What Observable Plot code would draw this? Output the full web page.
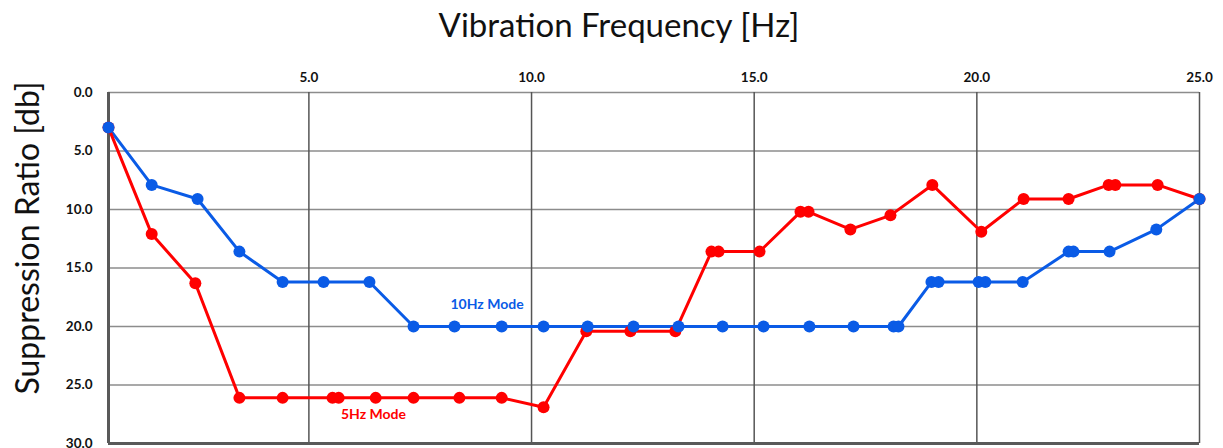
<!DOCTYPE html>
<html>
<head>
<meta charset="utf-8">
<script src="https://cdn.jsdelivr.net/npm/d3@7"></script>
<script src="https://cdn.jsdelivr.net/npm/@observablehq/plot@0.6"></script>
<style>
  html, body { margin: 0; padding: 0; background: #fff; }
  #chart svg { display: block; }
</style>
</head>
<body>
<div id="chart"></div>
<script>
// Frequencies [Hz] and suppression ratios [db]
const mode10Freq = [0.5, 1.47, 2.5, 3.44, 4.41, 5.33, 6.36, 7.35, 8.27, 9.33, 10.27, 11.26, 12.29, 13.3, 14.29, 15.21, 16.24, 17.23, 18.13, 18.24, 18.98, 19.14, 20.04, 20.19, 21.03, 22.06, 22.17, 22.98, 24.03, 25.0];
const mode10Db   = [3.0, 7.9, 9.1, 13.6, 16.2, 16.2, 16.2, 20.0, 20.0, 20.0, 20.0, 20.0, 20.0, 20.0, 20.0, 20.0, 20.0, 20.0, 20.0, 20.0, 16.2, 16.2, 16.2, 16.2, 16.2, 13.6, 13.6, 13.6, 11.7, 9.1];

const mode5Freq = [0.5, 1.47, 2.45, 3.44, 4.41, 5.53, 5.67, 6.5, 7.35, 8.38, 9.33, 10.27, 11.23, 12.22, 13.23, 14.04, 14.2, 15.12, 16.04, 16.22, 17.16, 18.06, 19.0, 20.1, 21.05, 22.06, 22.96, 23.11, 24.06, 25.0];
const mode5Db   = [3.0, 12.1, 16.3, 26.1, 26.1, 26.1, 26.1, 26.1, 26.1, 26.1, 26.1, 26.9, 20.4, 20.4, 20.4, 13.6, 13.6, 13.6, 10.2, 10.2, 11.7, 10.5, 7.9, 11.9, 9.1, 9.1, 7.9, 7.9, 7.9, 9.1];

const yTicks = [0, 5, 10, 15, 20, 25, 30];
const xTicks = [5, 10, 15, 20, 25];
const seriesNames = ["10Hz Mode", "5Hz Mode"];
const seriesColors = ["#0A5BE6", "#FF0000"];
const seriesLabelX = [9.0, 6.45];
const seriesLabelY = [18.1, 27.5];

const title = "Vibration Frequency [Hz]";
const yTitle = "Suppression Ratio [db]";

const mode10 = mode10Freq.map((f, i) => ({f, db: mode10Db[i]}));
const mode5 = mode5Freq.map((f, i) => ({f, db: mode5Db[i]}));
const labels = seriesNames.map((name, i) => ({name, f: seriesLabelX[i], db: seriesLabelY[i], color: seriesColors[i]}));

const chart = Plot.plot({
  width: 1223,
  height: 448,
  marginLeft: 108,
  marginRight: 24,
  marginTop: 92,
  marginBottom: 5,
  style: {fontFamily: "Lato, 'Open Sans', sans-serif", background: "#fff", overflow: "visible"},
  x: {domain: [0.5, 25]},
  y: {domain: [0, 30], reverse: true},
  marks: [
    Plot.gridY(yTicks.slice(0, -1), {stroke: "#8c8c8c", strokeOpacity: 1, strokeWidth: 1.5}),
    Plot.gridX(xTicks.slice(0, -1), {stroke: "#555", strokeOpacity: 1, strokeWidth: 1.5}),
    Plot.ruleX([25], {stroke: "#555", strokeWidth: 1.5}),
    Plot.ruleY([30], {stroke: "#595959", strokeWidth: 3}),
    Plot.ruleX([0.5], {stroke: "#595959", strokeWidth: 3}),
    Plot.axisY(yTicks, {tickSize: 0, tickPadding: 16, tickFormat: d3.format(".1f"), fontWeight: "bold", fontSize: 13.5, fill: "#111", label: null}),
    Plot.axisX(xTicks, {anchor: "top", tickSize: 0, tickPadding: 11, tickFormat: d3.format(".1f"), fontWeight: "bold", fontSize: 13.5, fill: "#111", label: null}),
    Plot.line(mode10, {x: "f", y: "db", stroke: seriesColors[0], strokeWidth: 3}),
    Plot.line(mode5, {x: "f", y: "db", stroke: seriesColors[1], strokeWidth: 3}),
    Plot.dot(mode5, {x: "f", y: "db", r: 6, fill: seriesColors[1]}),
    Plot.dot(mode10, {x: "f", y: "db", r: 6, fill: seriesColors[0]}),
    Plot.text(labels, {x: "f", y: "db", text: "name", fill: "color", fontWeight: "bold", fontSize: 14}),
    Plot.text([title], {frameAnchor: "top", dx: -35, dy: -66, lineAnchor: "middle", fontSize: 33, fill: "#111"}),
    Plot.text([yTitle], {frameAnchor: "left", textAnchor: "middle", lineAnchor: "middle", dx: -80, dy: -30, rotate: -90, fontSize: 32, fill: "#111"})
  ]
});
document.getElementById("chart").appendChild(chart);
</script>
</body>
</html>
